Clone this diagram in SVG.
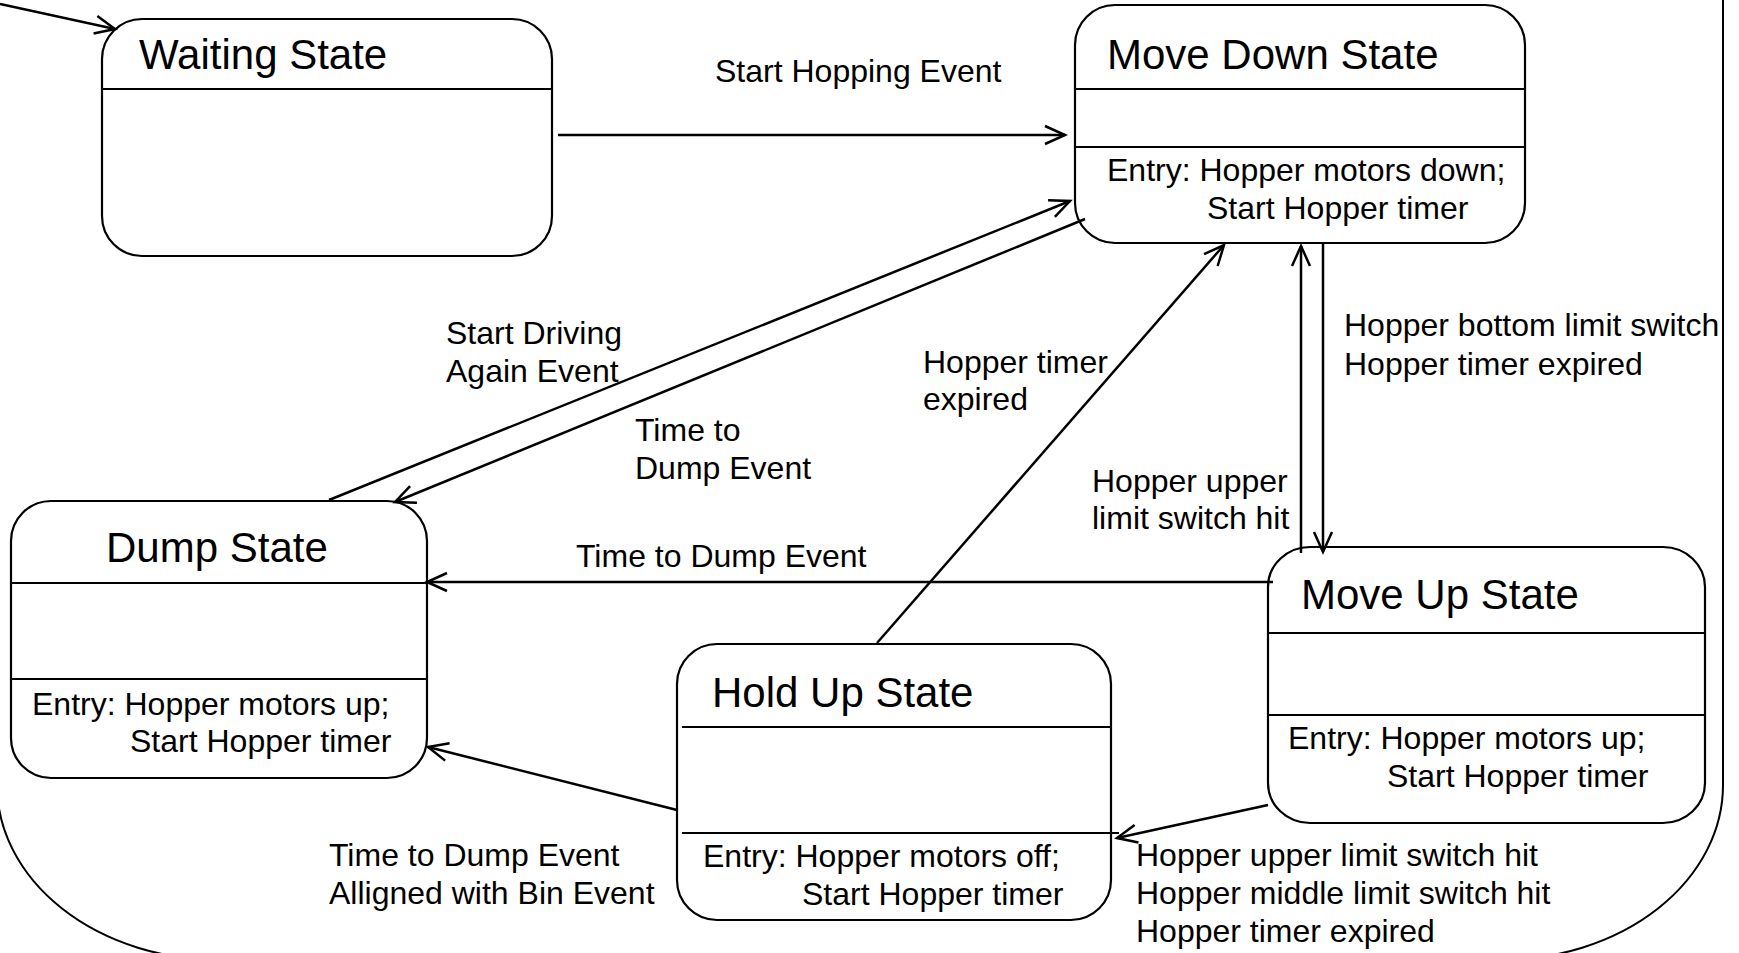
<svg xmlns="http://www.w3.org/2000/svg" width="1739" height="953" viewBox="0 0 1739 953">
<defs>
<marker id="arr" markerUnits="userSpaceOnUse" markerWidth="30" markerHeight="30" viewBox="-25 -15 30 30" refX="0" refY="0" orient="auto">
<path d="M-20,-9 L0,0 L-20,9" fill="none" stroke="#000" stroke-width="2.5"/>
</marker>
<style>
.box{fill:#fff;stroke:#000;stroke-width:2.2}
.div{stroke:#000;stroke-width:2.2;fill:none}
.title{font-family:"Liberation Sans",Arial,sans-serif;font-size:42px;fill:#000}
.txt{font-family:"Liberation Sans",Arial,sans-serif;font-size:32px;fill:#000}
.con{stroke:#000;stroke-width:2.5;fill:none;marker-end:url(#arr)}
.outer{fill:none;stroke:#000;stroke-width:2}
</style>
</defs>
<rect width="1739" height="953" fill="#fff"/>
<rect class="outer" x="-3" y="-400" width="1726" height="1360" rx="223" ry="175"/>

<g id="waiting">
<rect class="box" x="102" y="19" width="450" height="237" rx="40" ry="40"/>
<line class="div" x1="102" y1="89" x2="552" y2="89"/>
<text class="title" x="139" y="69">Waiting State</text>
</g>

<g id="movedown">
<rect class="box" x="1075" y="5" width="450" height="238" rx="40" ry="40"/>
<line class="div" x1="1075" y1="89" x2="1525" y2="89"/>
<line class="div" x1="1075" y1="147" x2="1525" y2="147"/>
<text class="title" x="1107" y="69">Move Down State</text>
<text class="txt" x="1107" y="181">Entry: Hopper motors down;</text>
<text class="txt" x="1207" y="219">Start Hopper timer</text>
</g>

<g id="dump">
<rect class="box" x="11" y="501" width="416" height="277" rx="40" ry="40"/>
<line class="div" x1="11" y1="583" x2="427" y2="583"/>
<line class="div" x1="11" y1="679" x2="427" y2="679"/>
<text class="title" x="106" y="562">Dump State</text>
<text class="txt" x="32" y="715">Entry: Hopper motors up;</text>
<text class="txt" x="130" y="752">Start Hopper timer</text>
</g>

<g id="holdup">
<rect class="box" x="677" y="644" width="434" height="276" rx="40" ry="40"/>
<line class="div" x1="682" y1="727" x2="1111" y2="727"/>
<line class="div" x1="682" y1="833" x2="1119" y2="833"/>
<text class="title" x="712" y="707">Hold Up State</text>
<text class="txt" x="703" y="867">Entry: Hopper motors off;</text>
<text class="txt" x="802" y="905">Start Hopper timer</text>
</g>

<g id="moveup">
<rect class="box" x="1268" y="547" width="437" height="276" rx="42" ry="40"/>
<line class="div" x1="1268" y1="633" x2="1705" y2="633"/>
<line class="div" x1="1268" y1="715" x2="1705" y2="715"/>
<text class="title" x="1301" y="609">Move Up State</text>
<text class="txt" x="1288" y="749">Entry: Hopper motors up;</text>
<text class="txt" x="1387" y="787">Start Hopper timer</text>
</g>

<g id="connectors">
<line class="con" x1="0" y1="4" x2="115" y2="29"/>
<line class="con" x1="558" y1="135" x2="1065" y2="135"/>
<line class="con" x1="329" y1="500" x2="1070" y2="201"/>
<line class="con" x1="1085" y1="219" x2="395" y2="502"/>
<line class="con" x1="877" y1="643" x2="1224" y2="245"/>
<line class="con" x1="1301" y1="553" x2="1301" y2="246"/>
<line class="con" x1="1323" y1="244" x2="1323" y2="552"/>
<line class="con" x1="1273" y1="582" x2="427" y2="582"/>
<line class="con" x1="677" y1="810" x2="428" y2="747"/>
<line class="con" x1="1268" y1="805" x2="1117" y2="838"/>
</g>

<g id="labels">
<text class="txt" x="715" y="82">Start Hopping Event</text>
<text class="txt" x="446" y="344">Start Driving</text>
<text class="txt" x="446" y="382">Again Event</text>
<text class="txt" x="635" y="441">Time to</text>
<text class="txt" x="635" y="479">Dump Event</text>
<text class="txt" x="923" y="373">Hopper timer</text>
<text class="txt" x="923" y="410">expired</text>
<text class="txt" x="1344" y="336">Hopper bottom limit switch</text>
<text class="txt" x="1344" y="375">Hopper timer expired</text>
<text class="txt" x="1092" y="492">Hopper upper</text>
<text class="txt" x="1092" y="529">limit switch hit</text>
<text class="txt" x="576" y="567">Time to Dump Event</text>
<text class="txt" x="329" y="866">Time to Dump Event</text>
<text class="txt" x="329" y="904">Alligned with Bin Event</text>
<text class="txt" x="1136" y="866">Hopper upper limit switch hit</text>
<text class="txt" x="1136" y="904">Hopper middle limit switch hit</text>
<text class="txt" x="1136" y="942">Hopper timer expired</text>
</g>
</svg>
